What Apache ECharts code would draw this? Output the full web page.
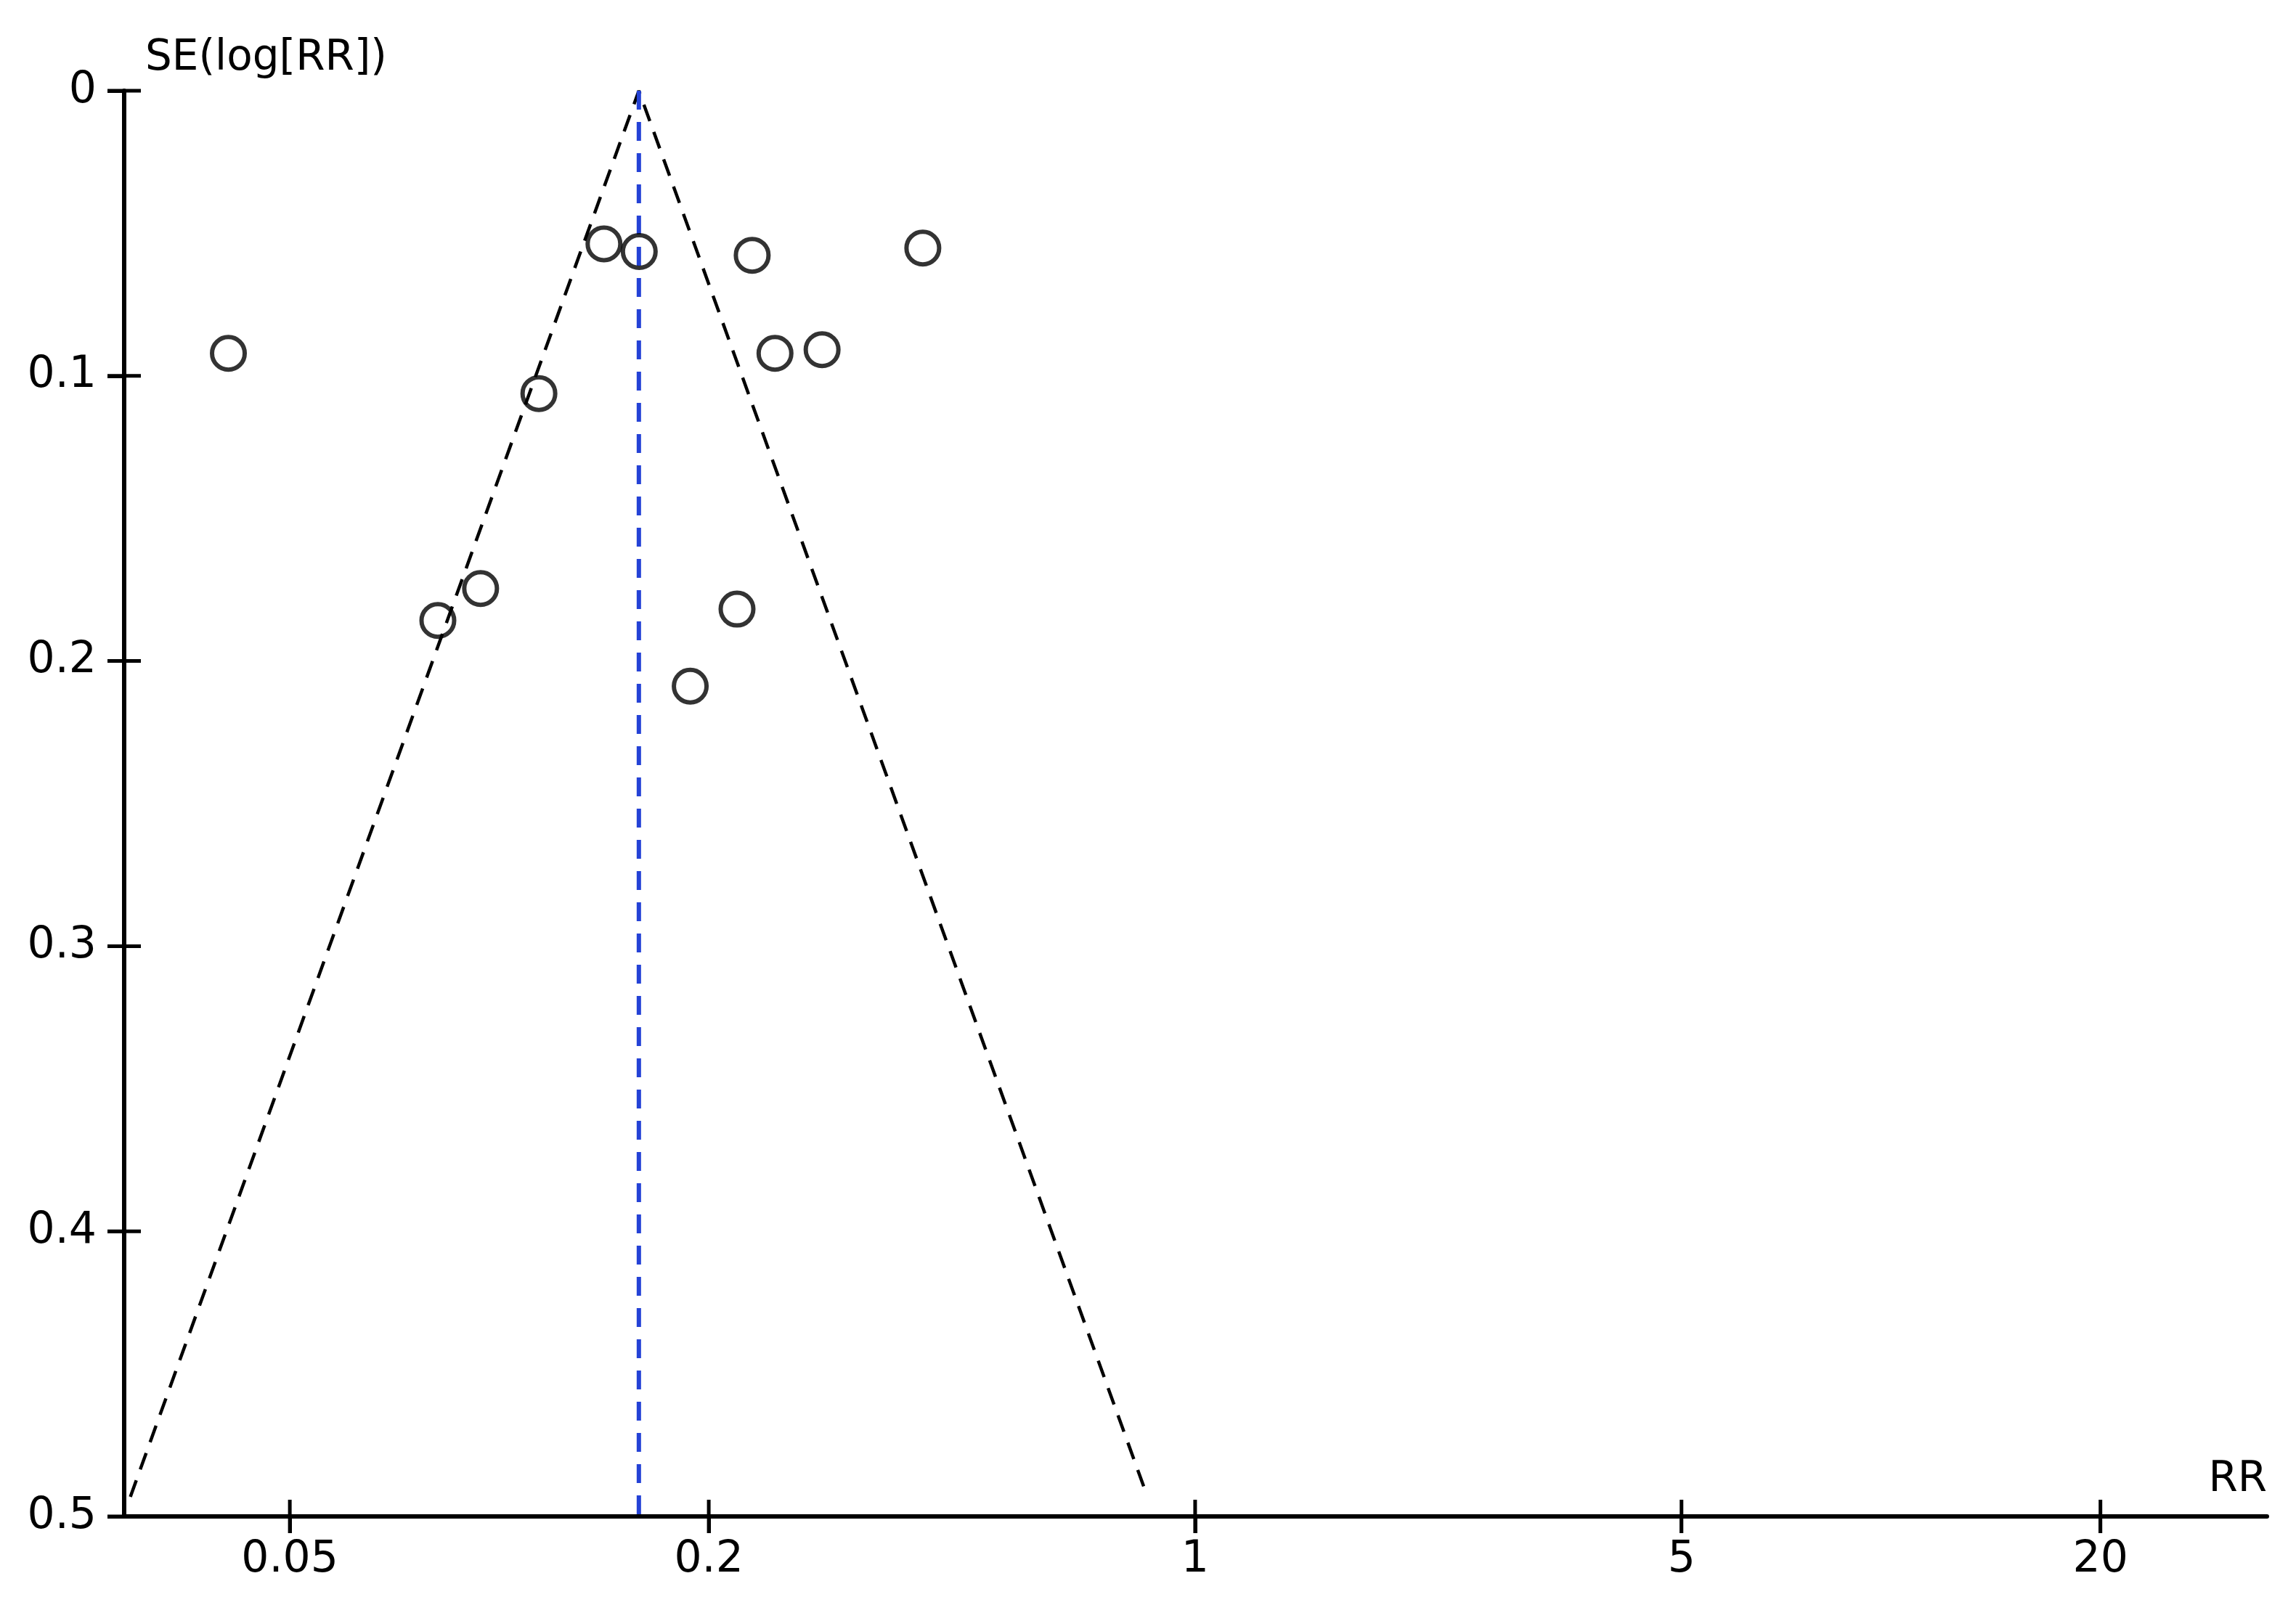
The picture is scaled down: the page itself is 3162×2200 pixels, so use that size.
<!DOCTYPE html>
<html>
<head>
<meta charset="utf-8">
<script src="https://cdn.jsdelivr.net/npm/echarts@6/dist/echarts.min.js"></script>
<style>
  html, body { margin: 0; padding: 0; background: #fff; }
  #chart { width: 3162px; height: 2200px; }
</style>
</head>
<body>
<div id="chart"></div>
<script>
// studies: risk ratio and SE(log[RR])
const studyRR = [0.0408, 0.0816, 0.0940, 0.1140, 0.1414, 0.1589, 0.1881, 0.2196, 0.2309, 0.2490, 0.2910, 0.4061];
const studySE = [0.0921, 0.1858, 0.1746, 0.1062, 0.0537, 0.0564, 0.2088, 0.1818, 0.0577, 0.0921, 0.0908, 0.0552];

// pooled estimate and the funnel (pseudo 95% limits)
const pooledRR = 0.1587;
const pooledSE = [0, 0.5];
const funnelRR = [0.0295, 0.1587, 0.854];
const funnelSE = [0.4931, 0, 0.4931];

// axes
const xTickValues = [0.05, 0.2, 1, 5, 20];
const yTickValues = [0, 0.1, 0.2, 0.3, 0.4, 0.5];
const xRange = [0.0289, 34.7];
const yRange = [0, 0.5];
const yInterval = 0.1;

const font = "DejaVu Sans";
const lg = (v) => Math.log10(v);
const xTicks = xTickValues.map(lg);
const tickHalf = 23;

const chart = echarts.init(document.getElementById("chart"));

const tickStyle = { color: "#000", width: 5 };

// short line crossing the axis at a tick, placed through the axis scales
function crossTick(vertical) {
  return function (params, api) {
    const p = api.coord([api.value(0), api.value(1)]);
    const shape = vertical
      ? { x1: p[0], y1: p[1] - tickHalf, x2: p[0], y2: p[1] + tickHalf }
      : { x1: p[0] - tickHalf, y1: p[1], x2: p[0] + tickHalf, y2: p[1] };
    return { type: "line", shape: shape, style: { stroke: "#000", lineWidth: 5 } };
  };
}

chart.setOption({
  backgroundColor: "#fff",
  animation: false,
  grid: { left: 171, right: 40, top: 125, bottom: 111 },
  xAxis: {
    type: "value",
    min: lg(xRange[0]),
    max: lg(xRange[1]),
    name: "RR",
    nameLocation: "end",
    nameGap: 0,
    nameTextStyle: {
      fontFamily: font,
      fontSize: 58,
      color: "#000",
      align: "right",
      verticalAlign: "bottom",
      lineHeight: 100,
    },
    axisLine: { show: true, onZero: false, lineStyle: { color: "#000", width: 6 } },
    axisTick: { show: true, length: tickHalf, customValues: xTicks, lineStyle: tickStyle },
    axisLabel: {
      show: true,
      customValues: xTicks,
      margin: 30,
      fontFamily: font,
      fontSize: 60,
      color: "#000",
      formatter: (v) => String(+Math.pow(10, v).toPrecision(2)),
    },
    splitLine: { show: false },
  },
  yAxis: {
    type: "value",
    inverse: true,
    min: yRange[0],
    max: yRange[1],
    interval: yInterval,
    name: "SE(log[RR])",
    nameLocation: "start",
    nameGap: 44,
    nameTextStyle: {
      fontFamily: font,
      fontSize: 58,
      color: "#000",
      align: "left",
      verticalAlign: "middle",
      padding: [0, 0, 0, 29],
    },
    axisLine: { show: true, onZero: false, lineStyle: { color: "#000", width: 6 } },
    axisTick: { show: true, length: tickHalf, lineStyle: tickStyle },
    axisLabel: { margin: 38, fontFamily: font, fontSize: 60, color: "#000" },
    splitLine: { show: false },
  },
  series: [
    {
      // funnel limits
      type: "line",
      data: funnelRR.map((r, i) => [lg(r), funnelSE[i]]),
      symbol: "none",
      lineStyle: { color: "#000", width: 4.5, type: [24, 16] },
      z: 2,
    },
    {
      // pooled estimate
      type: "line",
      data: pooledSE.map((s) => [lg(pooledRR), s]),
      symbol: "none",
      lineStyle: { color: "#2442d6", width: 6, type: [26, 17] },
      z: 2,
    },
    {
      type: "scatter",
      data: studyRR.map((r, i) => [lg(r), studySE[i]]),
      symbol: "circle",
      symbolSize: 45,
      itemStyle: { color: "rgba(0,0,0,0)", borderColor: "#000", borderWidth: 6 },
      z: 3,
    },
    {
      // x ticks crossing the axis line
      type: "custom",
      coordinateSystem: "cartesian2d",
      data: xTickValues.map((v) => [lg(v), yRange[1]]),
      renderItem: crossTick(true),
      clip: false,
      silent: true,
      z: 10,
    },
    {
      // y ticks crossing the axis line
      type: "custom",
      coordinateSystem: "cartesian2d",
      data: yTickValues.map((v) => [lg(xRange[0]), v]),
      renderItem: crossTick(false),
      clip: false,
      silent: true,
      z: 10,
    },
  ],
});
</script>
</body>
</html>
